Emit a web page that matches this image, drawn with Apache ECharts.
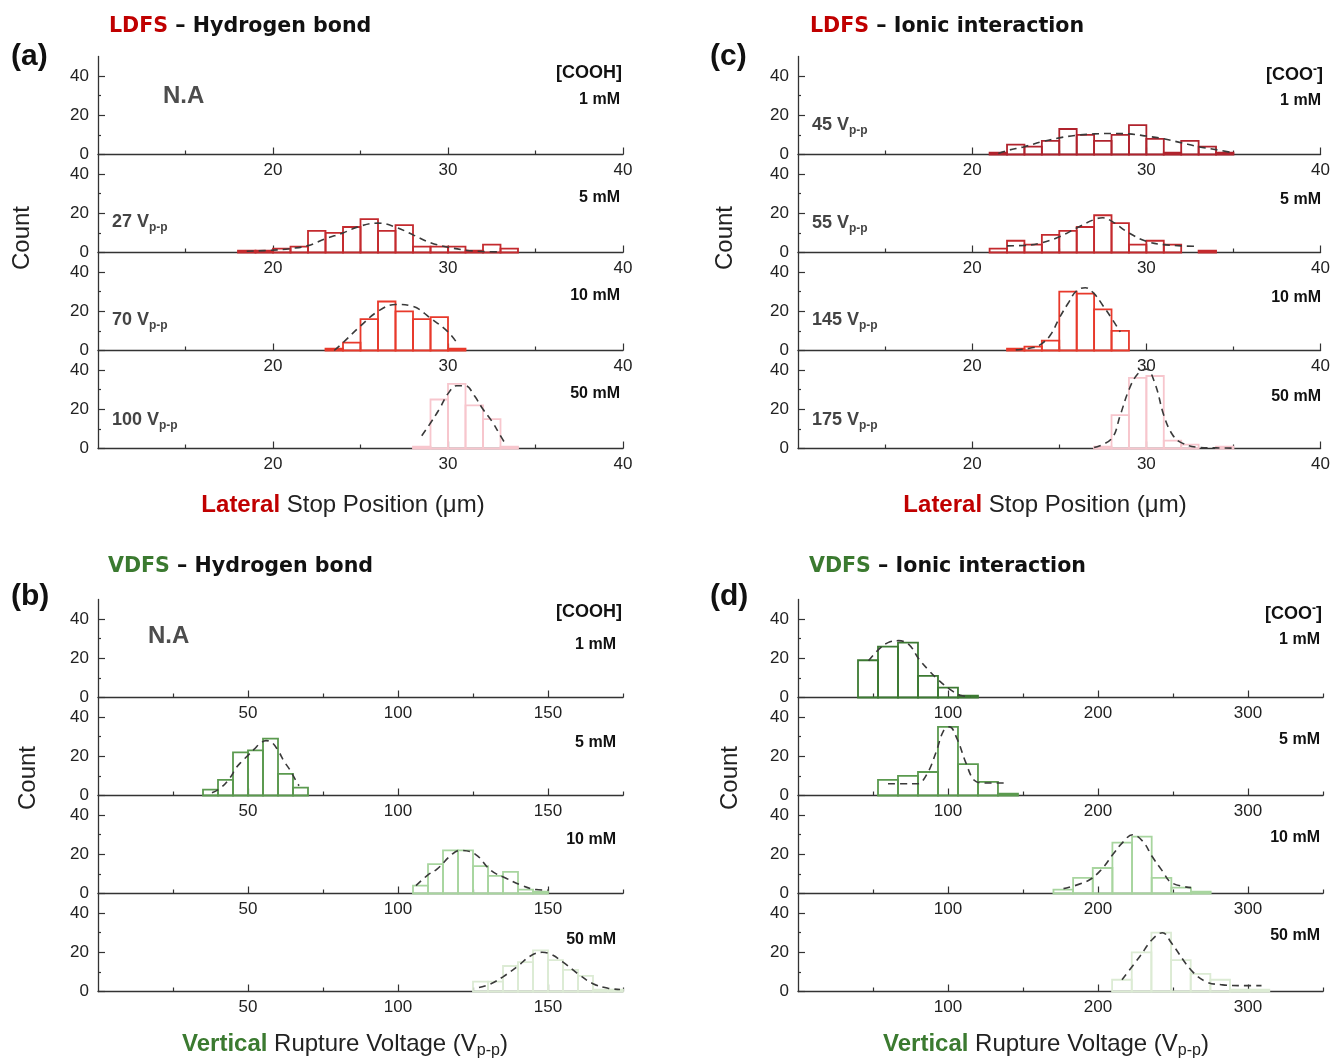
<!DOCTYPE html>
<html>
<head>
<meta charset="utf-8">
<script src="https://cdn.jsdelivr.net/npm/echarts@6/dist/echarts.min.js"></script>
<style>
html,body{margin:0;padding:0;background:#fff}
#chart{width:1333px;height:1058px}
</style>
</head>
<body>
<div id="chart"></div>
<script>
// ---- histogram counts (bin start, bin width, counts) and fitted curves ----
// (a) LDFS - hydrogen bond, lateral stop position (um)
var a5Start = 18, a5Width = 1;
var a5Counts = [1, 1, 2, 3, 11, 10, 13, 17, 11, 14, 3, 3, 3, 1, 4, 2];
var a5Fit = [[18.5,0.6],[20,1.2],[21,2],[22,3.5],[23,7],[24,10],[25,13.5],[26,15],[27,13],[28,9],[29,5],[30,2.7],[31,1.2],[32,0.5],[33,0.3]];
var a10Start = 23, a10Width = 1;
var a10Counts = [1, 4, 16, 25, 20, 16, 17, 1];
var a10Fit = [[23.5,0],[24,4],[25,12.5],[26,20],[27,23.5],[28,22.5],[29,16.5],[30,9.5],[30.5,4]];
var a50Start = 28, a50Width = 1;
var a50Counts = [1, 25, 33, 22, 15, 1];
var a50Fit = [[28.5,6.5],[29,13],[29.5,20],[30,28],[30.5,32],[31,32],[31.5,27],[32,20],[32.5,14],[33,6.5],[33.3,2]];

// (c) LDFS - ionic interaction
var c1Start = 21, c1Width = 1;
var c1Counts = [1, 5, 4, 7, 13, 10, 7, 10, 15, 8, 1, 7, 4, 1];
var c1Fit = [[21.5,0.5],[22,2],[23,4],[24,6.5],[25,8.5],[26,9.8],[27,10.5],[28,10.7],[29,10.5],[30,9.4],[31,8],[32,6],[33,4],[34,2.5],[35,0.8]];
var c5Start = 21, c5Width = 1;
var c5Counts = [2, 6, 4, 9, 11, 13, 19, 15, 4, 6, 4, 0, 1];
var c5Fit = [[22,3.4],[23,3.6],[24,5],[25,8],[26,12.5],[27,16.8],[27.5,17.7],[28,16],[29,10],[30,5.7],[31,4],[32,3.4],[33,3.1]];
var c10Start = 22, c10Width = 1;
var c10Counts = [1, 2, 5, 30, 29, 21, 10];
var c10Fit = [[22.5,0.3],[23.5,1.5],[24,3.5],[24.5,8],[25,16.5],[25.5,24],[26,30.5],[26.5,32],[27,29],[27.5,23],[28,16.5],[28.5,9.5]];
var c50Start = 27, c50Width = 1;
var c50Counts = [1, 17, 36, 37, 4, 2, 0, 1];
var c50Fit = [[27,0.5],[28,5],[28.5,17],[29,30],[29.5,38],[30,40.5],[30.5,33],[31,17],[31.5,7],[32,3],[33,0.6],[34,0.3],[35,0.2]];

// (b) VDFS - hydrogen bond, vertical rupture voltage (Vp-p)
var b5Start = 35, b5Width = 5;
var b5Counts = [3, 8, 22, 23, 29, 11, 4];
var b5Fit = [[38,1.4],[41,4],[44,9],[46,14],[48,17.5],[50,20.5],[52,23.5],[54,26.5],[56,28],[58,27],[60,23],[62,17.5],[64,13],[66,7.5],[67,5]];
var b10Start = 105, b10Width = 5;
var b10Counts = [4, 15, 22, 22, 14, 9, 11, 2, 1];
var b10Fit = [[106,4],[110,9.5],[113,12.4],[118,20],[120.7,22],[125.8,20],[131,11.7],[136,7.8],[141,4.3],[146,2],[150,1.7]];
var b50Start = 125, b50Width = 5;
var b50Counts = [5, 5, 13, 15, 21, 16, 11, 8, 1, 1];
var b50Fit = [[127,2],[131,4],[135,7.5],[140,13],[144,18],[148,20],[151,19],[155,15],[160,9],[165,4],[170,1.7],[174,1]];

// (d) VDFS - ionic interaction
var d1Start = 40, d1Width = 13.33;
var d1Counts = [19, 26, 28, 11, 5, 1];
var d1Fit = [[47,18.7],[54,24.7],[60,28],[67,29],[74,27],[80.6,19.6],[87,14],[93,9.4],[101,4.3],[108,1.2],[115,0.5]];
var d5Start = 53.33, d5Width = 13.33;
var d5Counts = [8, 10, 12, 35, 16, 7, 1];
var d5Fit = [[60,6],[70,6],[79.5,6],[86,11],[92,22],[97,33],[101,35],[106,29],[112,16.5],[117.5,7.8],[124,6.4],[138,6.4]];
var d10Start = 170.3, d10Width = 13.1;
var d10Counts = [2, 8, 13, 26, 29, 8, 3, 1];
var d10Fit = [[177,2.5],[193,6.4],[202,12],[210,20],[217,26.5],[223,30],[230,26.5],[236,19],[243,11.4],[249,5.5],[262,3]];
var d50Start = 209.4, d50Width = 13.1;
var d50Counts = [6, 20, 30, 16, 9, 6, 1, 1];
var d50Fit = [[216,6],[228,18],[236,26.4],[243,30],[249,24.7],[262,11],[272,5],[283,3.4],[295,3],[309,3]];

// axis ticks
var latMajor = [20, 30, 40], latMinor = [15, 25, 35];
var vhbMajor = [50, 100, 150], vhbMinor = [25, 75, 125, 175];
var vionMajor = [100, 200, 300], vionMinor = [50, 150, 250, 350];
var countMajor = [0, 20, 40], countMinor = [10, 30];

// ---- layout ----
var H = 98, W = 525;
function row(start, width, counts, fit, color) {
    var bins = [];
    for (var i = 0; i < counts.length; i++) {
        if (counts[i] > 0) bins.push([start + i * width, start + (i + 1) * width, counts[i]]);
    }
    return {bins: bins, fit: fit, color: color};
}

var panels = [
    {left: 98, top: 56.5, min: 10, max: 40, major: latMajor, minor: latMinor, rows: [
        null,
        row(a5Start, a5Width, a5Counts, a5Fit, '#c42a2e'),
        row(a10Start, a10Width, a10Counts, a10Fit, '#e8392b'),
        row(a50Start, a50Width, a50Counts, a50Fit, '#f7c6cd')]},
    {left: 798, top: 56.5, min: 10, max: 40, major: latMajor, minor: latMinor, rows: [
        row(c1Start, c1Width, c1Counts, c1Fit, '#b0232d'),
        row(c5Start, c5Width, c5Counts, c5Fit, '#c42a2e'),
        row(c10Start, c10Width, c10Counts, c10Fit, '#e8392b'),
        row(c50Start, c50Width, c50Counts, c50Fit, '#f7c6cd')]},
    {left: 98, top: 599.5, min: 0, max: 175, major: vhbMajor, minor: vhbMinor, rows: [
        null,
        row(b5Start, b5Width, b5Counts, b5Fit, '#5b9a4f'),
        row(b10Start, b10Width, b10Counts, b10Fit, '#a8d59f'),
        row(b50Start, b50Width, b50Counts, b50Fit, '#dcebd4')]},
    {left: 798, top: 599.5, min: 0, max: 350, major: vionMajor, minor: vionMinor, rows: [
        row(d1Start, d1Width, d1Counts, d1Fit, '#3c7a32'),
        row(d5Start, d5Width, d5Counts, d5Fit, '#5b9a4f'),
        row(d10Start, d10Width, d10Counts, d10Fit, '#a8d59f'),
        row(d50Start, d50Width, d50Counts, d50Fit, '#dcebd4')]}
];

var AX = '#333';
var grids = [], xAxes = [], yAxes = [], series = [];
panels.forEach(function (p) {
    for (var r = 0; r < 4; r++) {
        var gi = grids.length;
        grids.push({left: p.left, top: p.top + r * H, width: W, height: H});
        var xi = xAxes.length, yi = yAxes.length;
        xAxes.push({type: 'value', gridIndex: gi, position: 'bottom', min: p.min, max: p.max,
            axisLine: {show: true, onZero: false, lineStyle: {color: AX, width: 1.3}},
            axisTick: {show: true, inside: true, length: 7, customValues: p.major, lineStyle: {color: AX, width: 1.2}},
            axisLabel: {show: true, customValues: p.major, margin: 7, fontSize: 17, color: '#222', fontFamily: 'Liberation Sans'},
            splitLine: {show: false}});
        xAxes.push({type: 'value', gridIndex: gi, position: 'bottom', min: p.min, max: p.max,
            axisLine: {show: false},
            axisTick: {show: true, inside: true, length: 4, customValues: p.minor, lineStyle: {color: AX, width: 1.2}},
            axisLabel: {show: false}, splitLine: {show: false}});
        yAxes.push({type: 'value', gridIndex: gi, position: 'left', min: 0, max: 50,
            axisLine: {show: true, onZero: false, lineStyle: {color: AX, width: 1.3}},
            axisTick: {show: true, inside: true, length: 7, customValues: countMajor, lineStyle: {color: AX, width: 1.2}},
            axisLabel: {show: true, customValues: countMajor, margin: 9, fontSize: 17, color: '#222', fontFamily: 'Liberation Sans'},
            splitLine: {show: false}});
        yAxes.push({type: 'value', gridIndex: gi, position: 'left', min: 0, max: 50,
            axisLine: {show: false},
            axisTick: {show: true, inside: true, length: 3, customValues: countMinor, lineStyle: {color: AX, width: 1.2}},
            axisLabel: {show: false}, splitLine: {show: false}});
        var rw = p.rows[r];
        if (!rw) continue;
        (function (color) {
            series.push({type: 'custom', xAxisIndex: xi, yAxisIndex: yi, z: 2, silent: true,
                data: rw.bins,
                renderItem: function (params, api) {
                    var p0 = api.coord([api.value(0), api.value(2)]);
                    var p1 = api.coord([api.value(1), 0]);
                    return {type: 'rect',
                        shape: {x: p0[0], y: p0[1], width: p1[0] - p0[0], height: p1[1] - p0[1]},
                        style: {fill: 'rgba(255,255,255,0)', stroke: color, lineWidth: 1.8}};
                }});
        })(rw.color);
        series.push({type: 'line', xAxisIndex: xi, yAxisIndex: yi, z: 3, silent: true,
            data: rw.fit, smooth: 0.4, symbol: 'none', showSymbol: false,
            lineStyle: {color: '#3a3a3a', width: 1.6, type: [7, 5]}});
    }
});

// ---- text ----
var RICH = {
    tr: {fontFamily: 'DejaVu Sans', fontWeight: 'bold', fontSize: 20.6, fill: '#c00000'},
    tg: {fontFamily: 'DejaVu Sans', fontWeight: 'bold', fontSize: 20.6, fill: '#3b7a30'},
    tk: {fontFamily: 'DejaVu Sans', fontWeight: 'bold', fontSize: 20.6, fill: '#111'},
    pl: {fontFamily: 'Liberation Sans', fontWeight: 'bold', fontSize: 30, fill: '#111'},
    cnt: {fontFamily: 'Liberation Sans', fontSize: 24, fill: '#222'},
    xr: {fontFamily: 'Liberation Sans', fontWeight: 'bold', fontSize: 24, fill: '#c00000', lineHeight: 30},
    xg: {fontFamily: 'Liberation Sans', fontWeight: 'bold', fontSize: 24, fill: '#3b7a30', lineHeight: 30},
    xk: {fontFamily: 'Liberation Sans', fontSize: 24, fill: '#222', lineHeight: 30},
    xs: {fontFamily: 'Liberation Sans', fontSize: 16, fill: '#222', lineHeight: 12, verticalAlign: 'bottom'},
    na: {fontFamily: 'Liberation Sans', fontWeight: 'bold', fontSize: 24, fill: '#4d4d4d'},
    mm: {fontFamily: 'Liberation Sans', fontWeight: 'bold', fontSize: 16, fill: '#111', lineHeight: 22},
    hd: {fontFamily: 'Liberation Sans', fontWeight: 'bold', fontSize: 18, fill: '#111', lineHeight: 22},
    sp: {fontFamily: 'Liberation Sans', fontWeight: 'bold', fontSize: 12, fill: '#111', lineHeight: 10, verticalAlign: 'top'},
    vv: {fontFamily: 'Liberation Sans', fontWeight: 'bold', fontSize: 18, fill: '#444', lineHeight: 24},
    vs: {fontFamily: 'Liberation Sans', fontWeight: 'bold', fontSize: 12, fill: '#444', lineHeight: 12, verticalAlign: 'bottom'}
};
function txt(x, y, text, align, rot) {
    return {type: 'text', x: x, y: y, rotation: rot || 0, z: 100, silent: true,
        style: {text: text, rich: RICH, align: align || 'left', verticalAlign: 'middle'}};
}
var graphics = [
    txt(109, 27, '{tr|LDFS}{tk| – Hydrogen bond}'),
    txt(810, 27, '{tr|LDFS}{tk| – Ionic interaction}'),
    txt(108, 567, '{tg|VDFS}{tk| – Hydrogen bond}'),
    txt(809, 567, '{tg|VDFS}{tk| – Ionic interaction}'),
    txt(11, 57, '{pl|(a)}'), txt(710, 57, '{pl|(c)}'),
    txt(11, 597, '{pl|(b)}'), txt(710, 597, '{pl|(d)}'),
    txt(22, 238, '{cnt|Count}', 'center', Math.PI / 2),
    txt(725, 238, '{cnt|Count}', 'center', Math.PI / 2),
    txt(28, 778, '{cnt|Count}', 'center', Math.PI / 2),
    txt(730, 778, '{cnt|Count}', 'center', Math.PI / 2),
    txt(343, 505, '{xr|Lateral}{xk| Stop Position (μm)}', 'center'),
    txt(1045, 505, '{xr|Lateral}{xk| Stop Position (μm)}', 'center'),
    txt(345, 1044, '{xg|Vertical}{xk| Rupture Voltage (V}{xs|p-p}{xk|)}', 'center'),
    txt(1046, 1044, '{xg|Vertical}{xk| Rupture Voltage (V}{xs|p-p}{xk|)}', 'center'),
    txt(163, 96, '{na|N.A}'), txt(148, 636, '{na|N.A}'),
    txt(622, 73, '{hd|[COOH]}', 'right'), txt(622, 612, '{hd|[COOH]}', 'right'),
    txt(1323, 75, '{hd|[COO}{sp|-}{hd|]}', 'right'), txt(1322, 614, '{hd|[COO}{sp|-}{hd|]}', 'right'),
    txt(620, 100, '{mm|1 mM}', 'right'), txt(620, 198, '{mm|5 mM}', 'right'),
    txt(620, 296, '{mm|10 mM}', 'right'), txt(620, 394, '{mm|50 mM}', 'right'),
    txt(1321, 101, '{mm|1 mM}', 'right'), txt(1321, 200, '{mm|5 mM}', 'right'),
    txt(1321, 298, '{mm|10 mM}', 'right'), txt(1321, 397, '{mm|50 mM}', 'right'),
    txt(616, 645, '{mm|1 mM}', 'right'), txt(616, 743, '{mm|5 mM}', 'right'),
    txt(616, 840, '{mm|10 mM}', 'right'), txt(616, 940, '{mm|50 mM}', 'right'),
    txt(1320, 640, '{mm|1 mM}', 'right'), txt(1320, 740, '{mm|5 mM}', 'right'),
    txt(1320, 838, '{mm|10 mM}', 'right'), txt(1320, 936, '{mm|50 mM}', 'right'),
    txt(112, 222, '{vv|27 V}{vs|p-p}'), txt(112, 320, '{vv|70 V}{vs|p-p}'), txt(112, 420, '{vv|100 V}{vs|p-p}'),
    txt(812, 125, '{vv|45 V}{vs|p-p}'), txt(812, 223, '{vv|55 V}{vs|p-p}'),
    txt(812, 320, '{vv|145 V}{vs|p-p}'), txt(812, 420, '{vv|175 V}{vs|p-p}')
];

var chart = echarts.init(document.getElementById('chart'), null, {renderer: 'canvas'});
chart.setOption({
    backgroundColor: '#fff',
    animation: false,
    grid: grids,
    xAxis: xAxes,
    yAxis: yAxes,
    series: series,
    graphic: graphics
});
</script>
</body>
</html>
